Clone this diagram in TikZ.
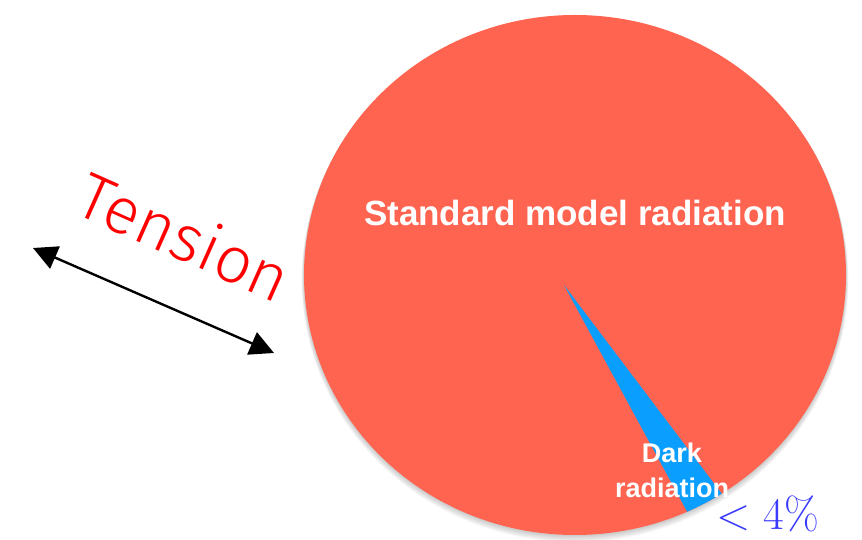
\documentclass[tikz,border=0pt]{standalone}
\usepackage{fontspec}
\setmainfont{Liberation Sans}
\newfontfamily\thinfont{Fira Sans Light}
\newfontfamily\lmroman{Latin Modern Roman}
\usetikzlibrary{arrows.meta,positioning,calc}
\definecolor{smred}{HTML}{FF6450}
\definecolor{darkblue}{HTML}{0A9EFF}
\definecolor{pctblue}{HTML}{3A3AFF}
\tikzset{
  slice/.style={fill=smred, draw=none},
  darkslice/.style={fill=darkblue, draw=none},
  pielabel/.style={text=white, font=\bfseries, align=center, inner sep=0pt},
  tensionarrow/.style={{Triangle[length=24pt, width=24pt]}-{Triangle[length=24pt, width=24pt]}, line width=2.4pt, draw=black}
}

\begin{document}
\begin{tikzpicture}[x=1pt, y=1pt]
  \useasboundingbox (0,0) rectangle (862,540);
  % pie outline is a little wider than tall
  \coordinate (ctr) at (575,265);
  \coordinate (apex) at (564,255);
  \coordinate (p1) at (690,23);
  \coordinate (p2) at (725,42);
  % soft shadow below the pie
  \foreach \i in {1,...,6}
    \fill[black, opacity=0.035] ($(ctr)+(0,-0.8*\i)$) ellipse[x radius=271+0.4*\i, y radius=260+0.4*\i];
  \fill[slice] (ctr) ellipse[x radius=271, y radius=260];
  \begin{scope}
    \clip (ctr) ellipse[x radius=271, y radius=260];
    \fill[darkslice] (apex) -- ($(apex)!1.3!(p1)$) -- ($(apex)!1.3!(p2)$) -- cycle;
  \end{scope}

  \node[pielabel, font=\bfseries\fontsize{35}{40}\selectfont] (sm) at (575,327) {Standard model radiation};
  \node[pielabel, font=\bfseries\fontsize{27}{35}\selectfont] (dr) at (672,70) {Dark\\radiation};
  \node[text=pctblue, inner sep=0pt, anchor=base] (pct) at (768,10) {\lmroman\fontsize{45}{52}\selectfont <\hspace{0.28em}4\%};

  % tension between the two
  \coordinate (tl) at (33,292);
  \coordinate (tr) at (274,187);
  \draw[tensionarrow] (tl) -- (tr);
  \node[text=red, rotate=-24, inner sep=0pt] (ten) at (185,304) {\thinfont\fontsize{65}{70}\selectfont Tension};
\end{tikzpicture}
\end{document}
